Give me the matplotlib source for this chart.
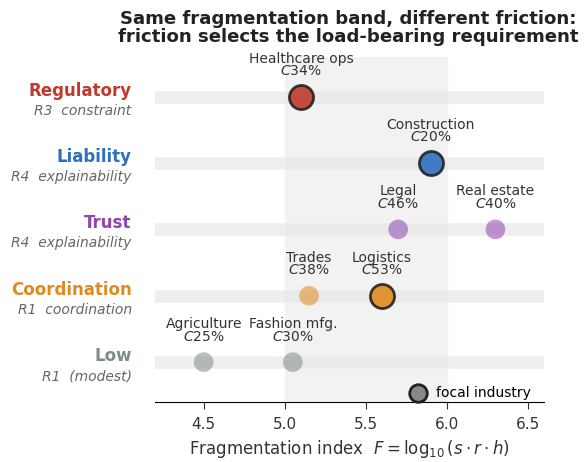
import matplotlib.pyplot as plt

# friction categories (top to bottom)
categories = ["Regulatory", "Liability", "Trust", "Coordination", "Low"]
requirements = ["R3  constraint", "R4  explainability", "R4  explainability",
                "R1  coordination", "R1  (modest)"]
cat_colors = ["#c0392b", "#2e6fc0", "#8e44ad", "#e08a1e", "#7f8c8d"]

# industries
industries = ["Healthcare ops", "Construction", "Legal", "Real estate",
              "Trades", "Logistics", "Agriculture", "Fashion mfg."]
ind_category = ["Regulatory", "Liability", "Trust", "Trust",
                "Coordination", "Coordination", "Low", "Low"]
frag_index = [5.10, 5.90, 5.70, 6.30, 5.15, 5.60, 4.50, 5.05]
c_share = [34, 20, 46, 40, 38, 53, 25, 30]
focal = [True, True, False, False, False, True, False, False]

fig, ax = plt.subplots(figsize=(5.85, 4.62), dpi=100)
fig.subplots_adjust(left=0.265, right=0.93, bottom=0.13, top=0.877)

n = len(categories)
ypos = {c: n - 1 - i for i, c in enumerate(categories)}
col = dict(zip(categories, cat_colors))

ax.axvspan(5.0, 6.0, color="#f2f2f2", zorder=0)
for c in categories:
    ax.axhline(ypos[c], color="#e6e6e6", lw=9, alpha=0.65, zorder=1)

for name, cat, x, cs, f in zip(industries, ind_category, frag_index, c_share, focal):
    y = ypos[cat]
    if f:
        ax.scatter(x, y, s=300, color=col[cat], edgecolor="#222222", linewidth=2, zorder=4, alpha=0.9)
    else:
        ax.scatter(x, y, s=200, color=col[cat], alpha=0.55, edgecolor="none", zorder=3)
    ax.text(x, y + 0.28, f"{name}\n$C${cs}%", ha="center", va="bottom",
            fontsize=10, color="#333333", linespacing=0.85, zorder=5)

for c, req in zip(categories, requirements):
    y = ypos[c]
    ax.text(-0.06, y + 0.09, c, transform=ax.get_yaxis_transform(), ha="right",
            va="center", fontsize=12, fontweight="bold", color=col[c])
    ax.text(-0.06, y - 0.21, req, transform=ax.get_yaxis_transform(), ha="right",
            va="center", fontsize=10, style="italic", color="#666666")

ax.scatter([], [], s=160, color="#888888", edgecolor="#222222", linewidth=2, label="focal industry")
ax.legend(loc="lower right", frameon=False, fontsize=10, handletextpad=0.3,
          borderaxespad=0.0, bbox_to_anchor=(0.98, -0.01))

ax.set_xlim(4.2, 6.6)
ax.set_ylim(-0.6, 4.6)
ax.set_xticks([4.5, 5.0, 5.5, 6.0, 6.5])
ax.set_yticks([])
for s in ["top", "right", "left"]:
    ax.spines[s].set_visible(False)
ax.tick_params(axis="x", labelsize=11, colors="#333333", length=5, pad=6)
ax.set_xlabel(r"Fragmentation index  $F = \log_{10}(s \cdot r \cdot h)$", fontsize=12,
              color="#333333", labelpad=4)
fig.suptitle("Same fragmentation band, different friction:\nfriction selects the load-bearing requirement",
             fontsize=13.1, fontweight="bold", color="#222222", x=0.595, y=0.978, linespacing=1.0)

fig.savefig("out.png", dpi=100)
